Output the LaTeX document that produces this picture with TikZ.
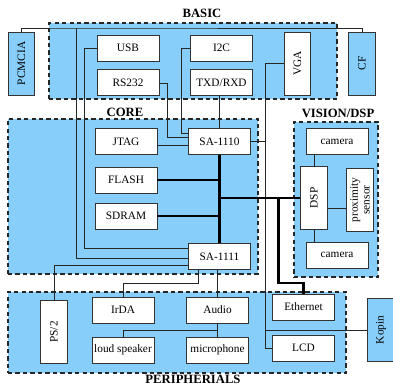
\documentclass[tikz,border=0pt]{standalone}
\usepackage{fontspec}
\setmainfont{Liberation Serif}
\usepackage{graphicx}
\usetikzlibrary{positioning,calc}
\definecolor{skyfill}{HTML}{87CEFA}
\definecolor{boxink}{HTML}{333333}
\tikzset{
  region/.style={draw=black!85, fill=skyfill, dashed, dash pattern=on 3.2pt off 2.4pt,
    line width=0.8pt, inner sep=0pt},
  title/.style={font=\fontsize{9.5}{10}\selectfont\bfseries},
  box/.style={draw=boxink, fill=white, line width=0.7pt, inner sep=1pt,
    minimum width=46.5pt, minimum height=19.5pt, font=\fontsize{8.5}{9}\selectfont},
  tallbox/.style={box, minimum width=20pt, minimum height=47.25pt},
  ext/.style={tallbox, fill=skyfill},
  wire/.style={draw=black!85, line width=0.6pt},
  bus/.style={draw=black, line width=2.2pt},
}

\begin{document}
\begin{tikzpicture}[x=0.75pt, y=-0.75pt]
\useasboundingbox (0,0) rectangle (393,385);

% ---- regions ---------------------------------------------------------
\node[region, minimum width=216pt, minimum height=57pt] (basic) at (193,61) {};
\node[region, minimum width=187.5pt, minimum height=116.25pt] (core) at (133,196.5) {};
\node[region, minimum width=63pt, minimum height=116.25pt] (vision) at (336,199.5) {};
\node[region, minimum width=253.5pt, minimum height=60.75pt] (periph) at (177,332.5) {};
\node[title] (basictitle) at (202,13) {BASIC};
\node[title] (coretitle) at (125,112) {CORE};
\node[title] (visiontitle) at (338,113) {VISION/DSP};
\node[title] (periphtitle) at (193,379) {PERIPHERIALS};

% ---- basic -----------------------------------------------------------
\node[ext] (pcmcia) at (21.5,63.5) {\rotatebox{90}{PCMCIA}};
\node[ext] (cf) at (362,63.5) {\rotatebox{90}{CF}};
\node[box] (usb) at (128,48) {USB};
\node[box, below=6pt of usb] (rs) {RS232};
\node[box] (itwoc) at (221.5,48) {I2C};
\node[box, below=6pt of itwoc] (txd) {TXD/RXD};
\node[tallbox] (vga) at (297.5,63.5) {\rotatebox{90}{VGA}};

% ---- core ------------------------------------------------------------
\node[box] (jtag) at (126,141.5) {JTAG};
\node[box] (flash) at (126,180) {FLASH};
\node[box] (sdram) at (126,216) {SDRAM};
\node[box] (saten) at (219.5,141.5) {SA-1110};
\node[box] (saeleven) at (219.5,256.5) {SA-1111};

% ---- vision/dsp ------------------------------------------------------
\node[box] (camtop) at (337,141.5) {camera};
\node[tallbox] (dsp) at (314,198) {\rotatebox{90}{DSP}};
\node[tallbox] (prox) at (360,200) {\rotatebox{90}{\shortstack{proximity\\sensor}}};
\node[box] (cambot) at (337,255) {camera};

% ---- peripherials ----------------------------------------------------
\node[tallbox] (ps2) at (54,332) {\rotatebox{90}{PS/2}};
\node[box] (irda) at (123,310) {IrDA};
\node[box] (speaker) at (123,350) {loud speaker};
\node[box] (audio) at (217.5,310) {Audio};
\node[box] (mic) at (217.5,350) {microphone};
\node[box] (ether) at (303.5,307) {Ethernet};
\node[box] (lcd) at (303.5,348) {LCD};
\node[ext] (kopin) at (381,330) {\rotatebox{90}{Kopin}};

% ---- wires -----------------------------------------------------------
\coordinate (bustap) at (76,28);
\draw[wire] (pcmcia.north) |- (bustap) -| (cf.north);
\draw[wire] (bustap) |- ($(saeleven.west)+(0,1.5)$);
\draw[wire] (usb.west) -- ++(-12,0) |- ($(saeleven.west)+(0,-8.5)$);
\draw[wire] (ps2.north) |- ($(saeleven.west)+(0,8.5)$);
\draw[wire] (rs.east) -- ++(8,0) |- ($(saten.west)+(0,-4.5)$);
\draw[wire] (itwoc.west) -- ++(-9,0) |- ($(saten.west)+(0,-8.5)$);
\draw[wire] (saten.north |- txd.south) -- (saten.north);
\draw[wire] ($(jtag.east)+(0,3.5)$) -- ($(saten.west)+(0,3.5)$);

\coordinate (vgadrop) at ($(vga.west)+(-18,0)$);
\draw[wire] (vga.west) -- (vgadrop) |- (lcd.west);
\draw[wire] (saten.east) -- (saten.east -| vgadrop);
\draw[wire] (kopin.west) -- (kopin.west -| vgadrop);

\draw[wire] (dsp.north) -- (dsp.north |- camtop.south);
\draw[wire] (dsp.south) -- (dsp.south |- cambot.north);
\coordinate (proxtap) at ($(dsp.east)+(0,10)$);
\draw[wire] (proxtap) -- (proxtap -| prox.west);

\draw[wire] ($(saeleven.south)+(-21.5,0)$) -- ++(0,13) -| (irda.north);
\draw[wire] (audio.north |- saeleven.south) -- (audio.north);
\draw[wire] (audio.south) -- (mic.north);
\draw[wire] (speaker.north) |- ($(audio.south)!0.5!(mic.north)$);

% ---- bus -------------------------------------------------------------
\draw[bus] (saten.south) -- (saeleven.north);
\draw[bus] (flash.east) -- (flash.east -| saten.south);
\draw[bus] (sdram.east) -- (sdram.east -| saten.south);
\draw[bus] (dsp.west) -- (dsp.west -| saten.south);
\coordinate (ethtap) at ($(dsp.west)+(-22,0)$);
\draw[bus] (ethtap) -- ++(0,85) -| (ether.north);

\end{tikzpicture}
\end{document}
